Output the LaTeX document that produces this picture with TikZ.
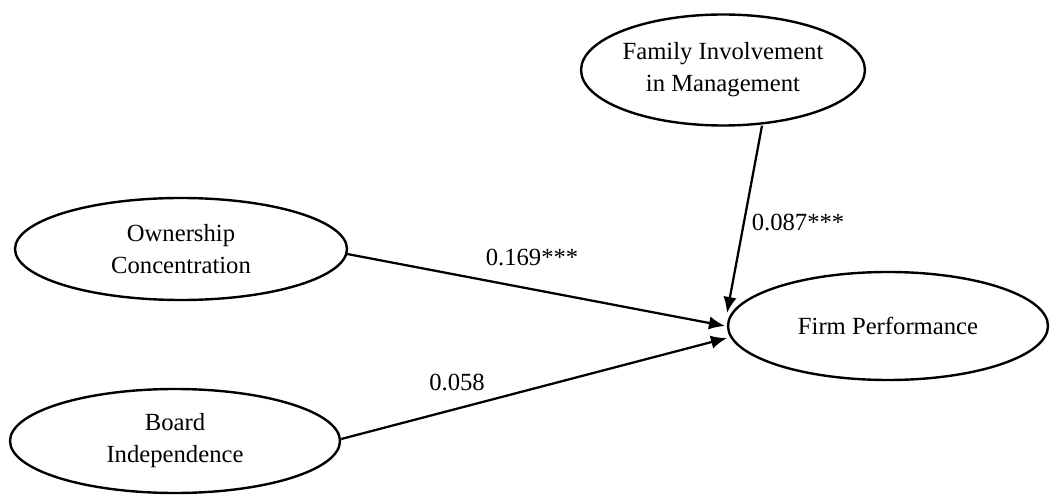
\documentclass[tikz,border=0pt]{standalone}
\usepackage{fontspec}
\setmainfont{Liberation Serif}
\usetikzlibrary{shapes.geometric,arrows.meta}
\begin{document}
\begin{tikzpicture}[x=0.75pt,y=-0.75pt,
  latent/.style={draw,line width=1.8pt,ellipse,align=center,font=\fontsize{18.5}{24}\selectfont,inner sep=0pt},
  path/.style={line width=1.7pt,-{Latex[length=12pt,width=10pt]}},
  coef/.style={font=\fontsize{18.5}{22}\selectfont}]
\useasboundingbox (0,0) rectangle (1050,495);
\node[latent,minimum width=272*0.75pt,minimum height=111*0.75pt] (fam) at (723,70) {Family Involvement\\in Management};
\node[latent,minimum width=332*0.75pt,minimum height=102*0.75pt] (own) at (181,249) {Ownership\\Concentration};
\node[latent,minimum width=330*0.75pt,minimum height=104*0.75pt] (brd) at (175,441) {Board\\Independence};
\node[latent,minimum width=320*0.75pt,minimum height=108*0.75pt] (firm) at (888,326) {Firm Performance};
\coordinate (t1) at (725,326);
\coordinate (t2) at (727,338);
\coordinate (t3) at (727,313);
\draw[path] (own.east) ++(-1,5) -- (t1);
\draw[path] (brd.east) ++(0,-2) -- (t2);
\draw[path] (fam.south) ++(39,-1) -- (t3);
\node[coef] (c1) at (532,257) {0.169***};
\node[coef] (c2) at (457,382) {0.058};
\node[coef] (c3) at (798,222) {0.087***};
\end{tikzpicture}
\end{document}
